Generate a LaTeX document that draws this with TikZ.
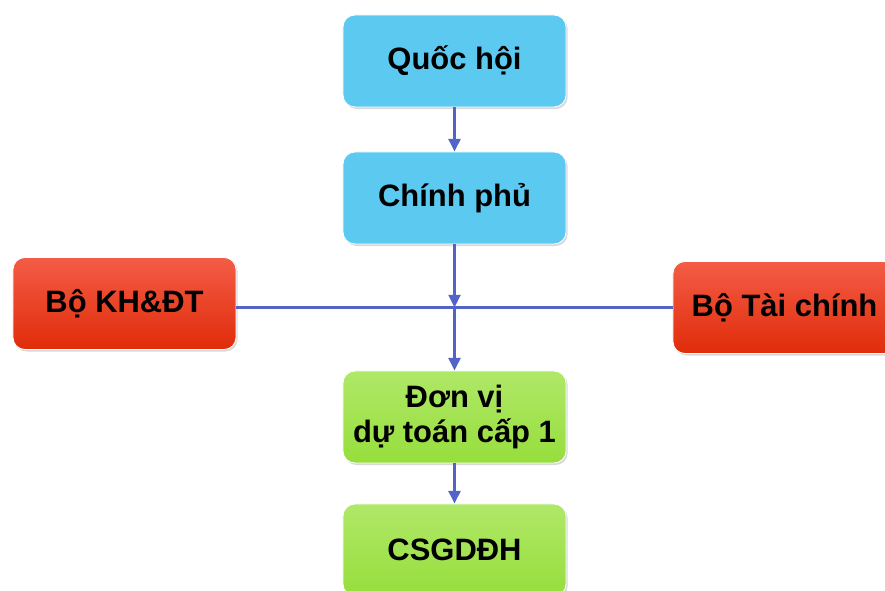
\documentclass[tikz,border=0pt]{standalone}
\usepackage{fontspec}
\setmainfont{Liberation Sans}
\usepackage{tikz}
\usetikzlibrary{positioning,arrows.meta,shadows}

\definecolor{boxblue}{RGB}{92,202,240}
\definecolor{boxredtop}{RGB}{244,92,70}
\definecolor{boxredbot}{RGB}{224,44,10}
\definecolor{boxgreentop}{RGB}{176,232,104}
\definecolor{boxgreenbot}{RGB}{150,222,60}
\definecolor{linkblue}{RGB}{82,100,200}

\begin{document}
\begin{tikzpicture}[
    x=0.025cm, y=-0.025cm,
    >={Triangle[angle=50:10pt]},
    unit/.style={rectangle, rounded corners=0.3cm, draw=white, line width=0.6pt,
        minimum width=5.575cm, minimum height=2.3cm, align=center,
        font=\fontsize{22}{25}\selectfont\bfseries,
        drop shadow={shadow xshift=0.04cm, shadow yshift=-0.05cm, opacity=0.3}},
    govbox/.style={unit, fill=boxblue},
    minbox/.style={unit, top color=boxredtop, bottom color=boxredbot},
    lowbox/.style={unit, top color=boxgreentop, bottom color=boxgreenbot},
    link/.style={draw=linkblue, line width=2pt}
]
\useasboundingbox (0,0) rectangle (885,590);

% Top: national level
\node[govbox] (quochoi) at (454.5, 61) {Quốc hội};
\node[govbox] (chinhphu) at (454.5, 198) {Chính phủ};

% Ministries on both sides
\node[minbox] (bokhdt) at (124.5, 303.5) {Bộ KH\&ĐT};
\node[minbox] (botc) at (784.5, 307.5) {Bộ Tài chính};

% Lower levels
\node[lowbox] (donvi) at (454.5, 417) {Đơn vị\\dự toán cấp 1};
\node[lowbox] (csgd) at (454.5, 550) {CSGDĐH};

\coordinate (mid) at (454.5, 307.5);

% Connectors
\draw[link, ->] (quochoi) -- (chinhphu);
\draw[link] (bokhdt.east |- mid) -- (botc.west |- mid);
\draw[link, ->] (chinhphu) -- (mid);
\draw[link, ->] (mid) -- (donvi);
\draw[link, ->] (donvi) -- (csgd);
\end{tikzpicture}
\end{document}
